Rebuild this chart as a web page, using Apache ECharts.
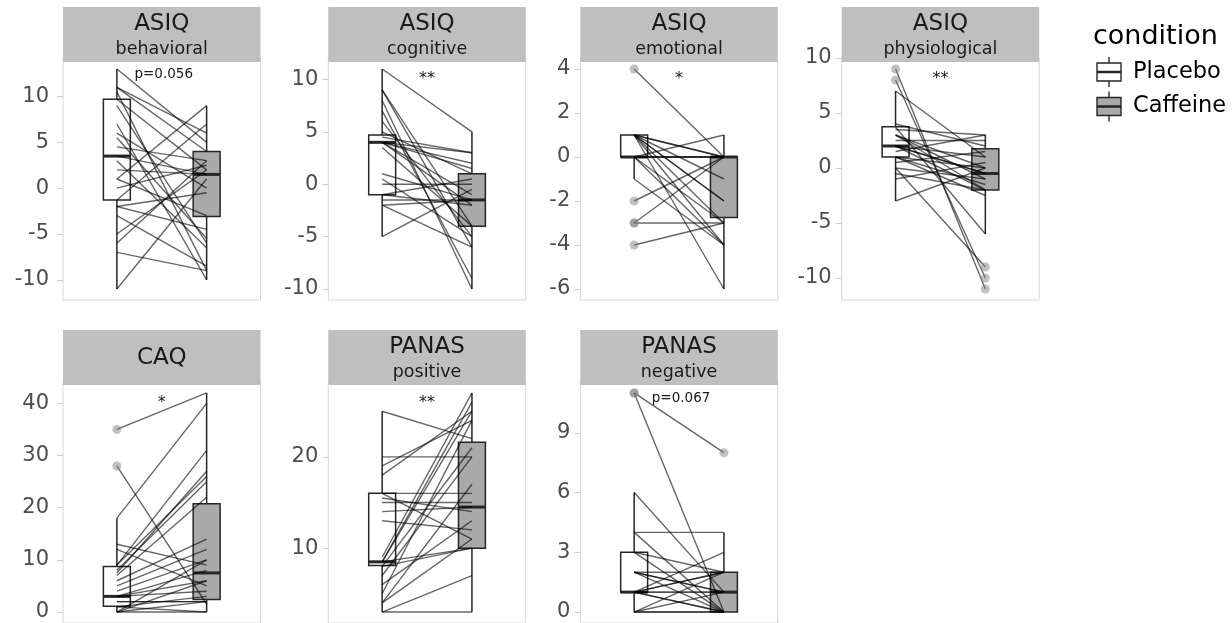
<!DOCTYPE html>
<html><head><meta charset="utf-8">
<script src="https://cdn.jsdelivr.net/npm/echarts@6/dist/echarts.min.js"></script>
<style>html,body{margin:0;padding:0;background:#fff}#c{width:1232px;height:623px}</style>
</head><body><div id="c"></div>
<script>
// ---------- DATA ----------
const conditions = ["Placebo", "Caffeine"];
const panelTitles = [["ASIQ","behavioral"],["ASIQ","cognitive"],["ASIQ","emotional"],["ASIQ","physiological"],["CAQ",""],["PANAS","positive"],["PANAS","negative"]];
const sigLabels = ["p=0.056","**","*","**","*","**","p=0.067"];
const yTicks = [[-10,-5,0,5,10],[-10,-5,0,5,10],[-6,-4,-2,0,2,4],[-10,-5,0,5,10],[0,10,20,30,40],[10,20],[0,3,6,9]];
const yLimits = [[-12.2,14.2],[-11.05,12.05],[-6.5,4.5],[-12,10],[-2.1,44.1],[1.8,28.2],[-0.55,11.55]];

// paired subject scores (placebo, caffeine)
const behavioralPlacebo = [13, 11, 11, 10.5, 9.7, 9, 7, 6, 5.5, 4.5, 3.5, 3, 2, 1, 1, 0, -1.3, -2, -2, -3, -5, -6, -7, -11];
const behavioralCaffeine = [5, 4, 6, -9, 2, -6, -10, 0, -5.5, 3, 1.5, -6.5, 1.5, 9, -3, 2.5, 7, -0.5, -4.5, -8.5, 2, 3, -9, 1];
const cognitivePlacebo = [11, 9, 9, 8, 7, 6, 5, 4.5, 4, 4, 4, 4, 4, 3.5, 1, 0.5, 0, -1, -1, -1.5, -2, -2, -5];
const cognitiveCaffeine = [5, -6, -4, -10, -9, -5, 1, 3, 3, 2, 1.5, -1, -2, -4, -1.5, -5, 0, 0.5, -2, -1.5, -1.5, -6, -0.5];
const emotionalPlacebo = [4, 1, 1, 1, 1, 1, 1, 1, 1, 0, 0, 0, 0, 0, 0, -1, -2, -3, -3, -4];
const emotionalCaffeine = [0, 0, 0, -2, -2, -4, -6, -1, -3, 1, 0, 0, -4, -3, 0, -4, 0, -3, 0, -3];
const physiologicalPlacebo = [9, 8, 7, 0, 3.7, 4, 3.5, 3, 3, 2.5, 2, 2, 2, 2, 1.5, 1, 1, 1, 0.5, 0, -0.5, -1, -3, 3];
const physiologicalCaffeine = [-11, -10, 1, -9, -6, 2, 3, 0, -1, 2.5, -0.5, -2, 1, -0.5, 3, -1.5, 0, -2.5, 1.5, -1, -2, 0.5, 0, -2];
const caqPlacebo = [35, 28, 18, 13, 12, 9, 9, 8, 7.5, 7, 6, 5, 4, 3, 3, 3, 2, 2, 1, 1, 0, 0, 0, 0];
const caqCaffeine = [42, 1.5, 40, 9, 5, 31, 26, 25, 27, 22, 14, 12, 10, 6, 8, 4, 2, 2, 0, 3, 0, 2, 10, 6];
const positivePlacebo = [25, 20, 19, 18, 16, 16, 15.5, 15, 14, 13, 9, 8.5, 8.5, 8.5, 8, 8, 7, 6, 5, 4, 4, 3, 3];
const positiveCaffeine = [22, 20, 24, 25, 16, 11, 14, 15, 14.5, 12, 27, 26, 25, 10, 10, 21, 20, 13, 24, 11, 17, 7, 3];
const negativePlacebo = [11, 11, 6, 4, 4, 3, 3, 2, 2, 2, 1, 1, 1, 1, 1, 1, 0, 0, 0, 0, 2, 1];
const negativeCaffeine = [8, 0, 1, 4, 0, 2, 0, 2, 0, 1, 3, 1, 2, 0, 1, 0, 0, 2, 1, 0, 1, 2];

// box statistics [lower whisker, Q1, median, Q3, upper whisker]
const boxPlacebo = [[-11,-1.3,3.5,9.7,13],[-5,-1,4,4.7,11],[-1,0,0,1,1],[-3,1,2,3.75,7],[0,1.1,3,8.75,18],[3,8.1,8.5,16,25],[0,1,1,3,6]];
const boxCaffeine = [[-10,-3.1,1.5,4,9],[-10,-4,-1.5,1,5],[-6,-2.75,0,0,1],[-6,-2,-0.5,1.75,3],[0,2.4,7.5,20.75,42],[3,10,14.5,21.6,27],[0,0,1,2,4]];
// outliers
const outPlacebo = [[],[],[4,-2,-3,-3,-4],[9,8],[35,28],[],[11,11]];
const outCaffeine = [[],[],[],[-9,-10,-11],[],[],[8]];

const pairs = [
  [behavioralPlacebo, behavioralCaffeine],
  [cognitivePlacebo, cognitiveCaffeine],
  [emotionalPlacebo, emotionalCaffeine],
  [physiologicalPlacebo, physiologicalCaffeine],
  [caqPlacebo, caqCaffeine],
  [positivePlacebo, positiveCaffeine],
  [negativePlacebo, negativeCaffeine]
];

// ---------- LAYOUT ----------
const colLeft = [63, 328.3, 580.3, 841.7];
const colWidth = 197.5;
const rowTop = [58, 382];
const rowHeight = [242, 241];
const stripTop = [7, 330];
const stripH = 55;
const FONT = 'DejaVu Sans';

const chart = echarts.init(document.getElementById('c'), null, {renderer: 'canvas'});

const grids = [], xAxes = [], yAxes = [], series = [], graphics = [];

function renderBox(params, api) {
  const x = api.value(0);
  const c = api.coord([x, api.value(3)]);
  const cx = c[0];
  const yMin = api.coord([x, api.value(1)])[1];
  const yQ1 = api.coord([x, api.value(2)])[1];
  const yMed = c[1];
  const yQ3 = api.coord([x, api.value(4)])[1];
  const yMax = api.coord([x, api.value(5)])[1];
  const hw = api.size([0.3, 0])[0] / 2;
  const stroke = '#262626';
  const fill = api.value(6) === 1 ? '#a9a9a9' : '#ffffff';
  return {type: 'group', children: [
    {type: 'line', shape: {x1: cx, y1: yQ3, x2: cx, y2: yMax}, style: {stroke, lineWidth: 1.5}},
    {type: 'line', shape: {x1: cx, y1: yQ1, x2: cx, y2: yMin}, style: {stroke, lineWidth: 1.5}},
    {type: 'rect', shape: {x: cx - hw, y: yQ3, width: 2 * hw, height: yQ1 - yQ3}, style: {fill, stroke, lineWidth: 1.5}},
    {type: 'line', shape: {x1: cx - hw, y1: yMed, x2: cx + hw, y2: yMed}, style: {stroke, lineWidth: 3}}
  ]};
}
function renderPair(params, api) {
  const a = api.coord([1, api.value(0)]);
  const b = api.coord([2, api.value(1)]);
  return {type: 'line', shape: {x1: a[0], y1: a[1], x2: b[0], y2: b[1]},
          style: {stroke: 'rgba(0,0,0,0.6)', lineWidth: 1.4}};
}

for (let i = 0; i < 7; i++) {
  const row = i < 4 ? 0 : 1;
  const col = i < 4 ? i : i - 4;
  const left = colLeft[col];
  grids.push({left: left, top: rowTop[row], width: colWidth, height: rowHeight[row],
    show: true, borderColor: '#d6d6d6', borderWidth: 1, backgroundColor: '#fff'});
  xAxes.push({gridIndex: i, type: 'value', min: 0.4, max: 2.6, show: false});
  yAxes.push({gridIndex: i, type: 'value', min: yLimits[i][0], max: yLimits[i][1],
    axisLine: {show: false}, splitLine: {show: false},
    axisTick: {show: true, length: 6, lineStyle: {color: '#cfcfcf', width: 1}, customValues: yTicks[i]},
    axisLabel: {customValues: yTicks[i], color: '#4d4d4d', fontSize: 21, fontFamily: FONT, margin: col === 0 ? 14 : 10}});

  const boxData = [
    [1].concat(boxPlacebo[i]).concat([0]),
    [2].concat(boxCaffeine[i]).concat([1])
  ];
  series.push({type: 'custom', xAxisIndex: i, yAxisIndex: i, renderItem: renderBox, data: boxData, z: 2, silent: true});
  const pd = pairs[i][0].map((p, k) => [p, pairs[i][1][k]]);
  series.push({type: 'custom', xAxisIndex: i, yAxisIndex: i, renderItem: renderPair, data: pd, z: 3, silent: true,
    encode: {x: [], y: [0, 1]}});
  const od = outPlacebo[i].map(v => [1, v]).concat(outCaffeine[i].map(v => [2, v]));
  series.push({type: 'scatter', xAxisIndex: i, yAxisIndex: i, data: od, symbolSize: 9, z: 4, silent: true,
    itemStyle: {color: 'rgba(125,125,125,0.6)'}});

  // strip
  graphics.push({type: 'rect', z: 100, shape: {x: left, y: stripTop[row], width: colWidth, height: stripH},
    style: {fill: '#bfbfbf'}});
  const cx = left + colWidth / 2;
  if (panelTitles[i][1]) {
    graphics.push({type: 'text', z: 101, x: cx, y: stripTop[row] + 17,
      style: {text: panelTitles[i][0], fontSize: 23, fontFamily: FONT, fill: '#1a1a1a', align: 'center', verticalAlign: 'middle'}});
    graphics.push({type: 'text', z: 101, x: cx, y: stripTop[row] + 42,
      style: {text: panelTitles[i][1], fontSize: 17.5, fontFamily: FONT, fill: '#1a1a1a', align: 'center', verticalAlign: 'middle'}});
  } else {
    graphics.push({type: 'text', z: 101, x: cx, y: stripTop[row] + 28,
      style: {text: panelTitles[i][0], fontSize: 23, fontFamily: FONT, fill: '#1a1a1a', align: 'center', verticalAlign: 'middle'}});
  }
  // significance label
  const isP = sigLabels[i].startsWith('p');
  const sy = (row === 0 ? 74 : 398) + (isP ? 0 : 5);
  graphics.push({type: 'text', z: 50, x: cx + (isP ? 2 : 0), y: sy,
    style: {text: sigLabels[i], fontSize: isP ? 13.5 : 16, fontFamily: FONT, fill: '#1a1a1a', align: 'center', verticalAlign: 'middle'}});
}

// legend
graphics.push({type: 'text', x: 1093, y: 37, style: {text: 'condition', fontSize: 27, fontFamily: FONT, fill: '#000', align: 'left', verticalAlign: 'middle'}});
const legFill = ['#ffffff', '#a9a9a9'];
const legY = [72, 106.5];
for (let k = 0; k < 2; k++) {
  const cy = legY[k];
  graphics.push({type: 'line', shape: {x1: 1109, y1: cy - 15, x2: 1109, y2: cy + 15}, style: {stroke: '#262626', lineWidth: 1.4}});
  graphics.push({type: 'rect', shape: {x: 1097, y: cy - 9, width: 24, height: 18}, style: {fill: legFill[k], stroke: '#262626', lineWidth: 1.4}});
  graphics.push({type: 'line', shape: {x1: 1097, y1: cy, x2: 1121, y2: cy}, style: {stroke: '#262626', lineWidth: 2.5}});
  graphics.push({type: 'text', x: 1133, y: cy, style: {text: conditions[k], fontSize: 22.5, fontFamily: FONT, fill: '#000', align: 'left', verticalAlign: 'middle'}});
}

chart.setOption({
  animation: false,
  backgroundColor: '#ffffff',
  grid: grids, xAxis: xAxes, yAxis: yAxes, series: series, graphic: graphics
});
</script></body></html>
